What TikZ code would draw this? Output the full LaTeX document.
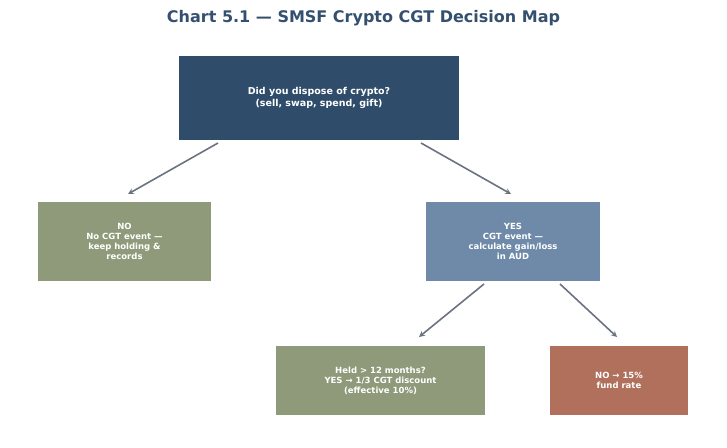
\documentclass[tikz,border=0pt]{standalone}
\usepackage{fontspec}
\setmainfont{DejaVu Sans}
\usetikzlibrary{positioning}
\definecolor{navy}{HTML}{2F4D6B}
\definecolor{sage}{HTML}{8E9A7A}
\definecolor{steel}{HTML}{6E8AA8}
\definecolor{clay}{HTML}{B0705C}
\definecolor{titleblue}{HTML}{34506E}
\definecolor{arrowgray}{HTML}{6B7280}
\tikzset{
  box/.style={draw=none, text=white, font=\bfseries\fontsize{8.5}{10}\selectfont, align=center, inner sep=0pt},
  link/.style={draw=arrowgray, line width=1.6pt, -stealth}
}
\begin{document}
\begin{tikzpicture}[x=1pt,y=-1pt]
\useasboundingbox (0,0) rectangle (727,447);
\node[font=\bfseries\fontsize{16}{19}\selectfont, text=titleblue] (title) at (363.5,18) {Chart 5.1 — SMSF Crypto CGT Decision Map};
\node[box, fill=navy, minimum width=280pt, minimum height=84pt, font=\bfseries\fontsize{9.5}{11.5}\selectfont] (top) at (319,98) {Did you dispose of crypto?\\(sell, swap, spend, gift)};
\node[box, fill=sage, minimum width=173pt, minimum height=79pt] (no) at (124.5,241.5) {NO\\No CGT event —\\keep holding \&\\records};
\node[box, fill=steel, minimum width=174pt, minimum height=79pt] (yes) at (513,241.5) {YES\\CGT event —\\calculate gain/loss\\in AUD};
\node[box, fill=sage, minimum width=209pt, minimum height=69pt] (held) at (380.5,380.5) {Held > 12 months?\\YES → 1/3 CGT discount\\(effective 10\%)};
\node[box, fill=clay, minimum width=138pt, minimum height=69pt] (rate) at (619,380.5) {NO → 15\%\\fund rate};
% arrow ends
\coordinate (topL) at (218,143);
\coordinate (topR) at (421,143);
\coordinate (noT) at (128,194);
\coordinate (yesT) at (511,194);
\coordinate (yesL) at (484,284);
\coordinate (yesR) at (560,284);
\coordinate (heldT) at (419,337);
\coordinate (rateT) at (617,337);
\draw[link] (topL) -- (noT);
\draw[link] (topR) -- (yesT);
\draw[link] (yesL) -- (heldT);
\draw[link] (yesR) -- (rateT);
\end{tikzpicture}
\end{document}
